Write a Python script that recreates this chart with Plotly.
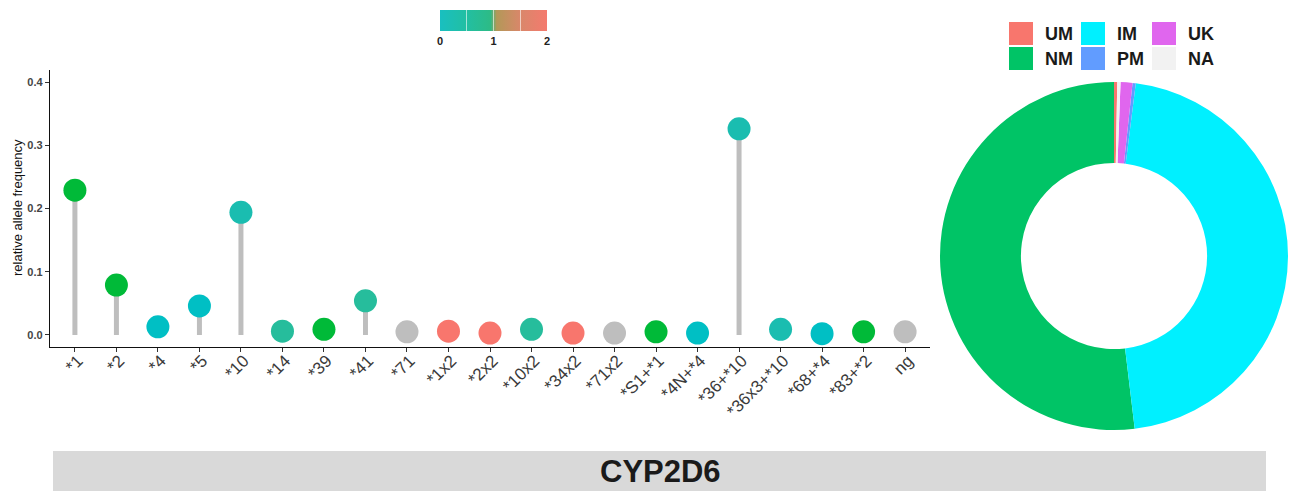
import plotly.graph_objects as go

# ---------------- data ----------------
alleles = ["*1", "*2", "*4", "*5", "*10", "*14", "*39", "*41", "*71", "*1x2", "*2x2",
           "*10x2", "*34x2", "*71x2", "*S1+*1", "*4N+*4", "*36+*10", "*36x3+*10",
           "*68+*4", "*83+*2", "ng"]
frequency = [0.229, 0.079, 0.013, 0.046, 0.194, 0.006, 0.009, 0.054, 0.005, 0.006, 0.003,
             0.009, 0.003, 0.003, 0.005, 0.003, 0.326, 0.009, 0.002, 0.005, 0.005]
activity = [1, 1, 0, 0, 0.25, 0.5, 1, 0.5, None, 2, 2,
            0.5, 2, None, 1, 0, 0.25, 0.25, 0, 1, None]

phenotypes = ["UM", "NM", "IM", "PM", "UK", "NA"]
phenotype_share = [0.3, 51.9, 46.1, 0.3, 1.1, 0.3]
phenotype_colors = ["#F8766D", "#00C466", "#00F0FF", "#619CFF", "#E066EE", "#F2F2F2"]

legend_rows = [["UM", "IM", "UK"], ["NM", "PM", "NA"]]
colorbar_ticks = [0, 0.5, 1, 1.5, 2]
colorbar_labels = ["0", "", "1", "", "2"]
gene = "CYP2D6"

# ---------------- styles ----------------
ACT_COLORS = {0: "#00BFC4", 0.25: "#1ABDB0", 0.5: "#26BD9C", 1: "#00BA38", 2: "#F8766D"}
NA_COLOR = "#BEBEBE"
marker_colors = [ACT_COLORS[a] if a is not None else NA_COLOR for a in activity]

W, H = 1293, 491
def px(x):
    return x / W
def py(y):
    return 1 - y / H

fig = go.Figure()

# stems
sx, sy = [], []
for a, f in zip(alleles, frequency):
    sx += [a, a, None]
    sy += [0, f, None]
fig.add_trace(go.Scatter(x=sx, y=sy, mode="lines",
                         line=dict(color="#BEBEBE", width=5),
                         showlegend=False, hoverinfo="skip"))
# heads
fig.add_trace(go.Scatter(x=alleles, y=frequency, mode="markers",
                         marker=dict(size=23, color=marker_colors, line=dict(width=0)),
                         showlegend=False))

# colorbar (activity scale)
fig.add_trace(go.Scatter(x=[None], y=[None], mode="markers", showlegend=False,
                         marker=dict(color=[0], cmin=0, cmax=2, showscale=True,
                                     colorscale=[[0, "#19BFC0"], [0.25, "#22BFA2"],
                                                 [0.47, "#2DBB86"], [0.53, "#B39858"],
                                                 [0.75, "#D9876A"], [1, "#F47A6E"]],
                                     colorbar=dict(orientation="h", lenmode="pixels", len=107,
                                                   thickness=21, x=px(493.5), xanchor="center",
                                                   y=py(10), yanchor="top", outlinewidth=0,
                                                   tickvals=colorbar_ticks,
                                                   ticktext=colorbar_labels,
                                                   ticks="inside", ticklen=21, tickwidth=1,
                                                   tickcolor="rgba(255,255,255,0.6)",
                                                   tickfont=dict(family="Liberation Sans", size=11,
                                                                 color="#222", weight="bold"),
                                                   xpad=0, ypad=0))))

# donut
fig.add_trace(go.Pie(labels=phenotypes, values=phenotype_share, hole=0.535, sort=False,
                     direction="counterclockwise", rotation=0,
                     marker=dict(colors=phenotype_colors, line=dict(width=0)),
                     textinfo="none", showlegend=False,
                     domain=dict(x=[px(940), px(1288)], y=[py(430), py(82)])))

# legend for donut (drawn)
color_of = dict(zip(phenotypes, phenotype_colors))
col_x = [1009, 1081, 1152]
row_y = [22, 47]
shapes = []
annotations = []
for r, row in enumerate(legend_rows):
    for c, lab in enumerate(row):
        x0, y0 = col_x[c], row_y[r]
        shapes.append(dict(type="rect", xref="paper", yref="paper",
                           x0=px(x0), x1=px(x0 + 24), y0=py(y0 + 23), y1=py(y0),
                           fillcolor=color_of[lab], line=dict(width=0)))
        annotations.append(dict(text=lab, xref="paper", yref="paper", x=px(x0 + 34),
                                y=py(y0 + 11.5), xanchor="left", yanchor="middle",
                                showarrow=False,
                                font=dict(family="Liberation Sans", size=18, color="#1a1a1a",
                                          weight="bold")))

# bottom strip
shapes.append(dict(type="rect", xref="paper", yref="paper", x0=px(53), x1=px(1266),
                   y0=0, y1=py(451), fillcolor="#D9D9D9", line=dict(width=0), layer="below"))
annotations.append(dict(text=gene, xref="paper", yref="paper", x=px(660), y=py(471),
                        xanchor="center", yanchor="middle", showarrow=False,
                        font=dict(family="Liberation Sans", size=31, color="#1a1a1a",
                                  weight="bold")))
# y title
annotations.append(dict(text="relative allele frequency", xref="paper", yref="paper",
                        x=px(17), y=py(208), textangle=-90, showarrow=False,
                        xanchor="center", yanchor="middle",
                        font=dict(family="Liberation Sans", size=13, color="#111")))

fig.update_layout(
    width=W, height=H, margin=dict(l=0, r=0, t=0, b=0),
    paper_bgcolor="white", plot_bgcolor="white",
    shapes=shapes, annotations=annotations,
    xaxis=dict(domain=[px(50), px(930)], type="category", categoryorder="array",
               categoryarray=alleles, range=[-0.6, 20.6], showgrid=False, zeroline=False,
               showline=True, linecolor="#111", linewidth=1.3, ticks="outside", ticklen=4,
               tickcolor="#333", tickangle=-45, automargin=False, ticklabelshift=3,
               ticklabelstandoff=-8,
               tickfont=dict(family="Liberation Sans", size=17, color="#3A3A3A")),
    yaxis=dict(domain=[py(347), py(70)], range=[-0.019, 0.419], showgrid=False,
               zeroline=False, showline=True, linecolor="#111", linewidth=1.3,
               ticks="outside", ticklen=4, tickcolor="#333", tickvals=[0, 0.1, 0.2, 0.3, 0.4],
               tickformat=".1f", automargin=False,
               tickfont=dict(family="Liberation Sans", size=11, color="#444", weight="bold")),
)

fig.write_html("out.html", config={"displayModeBar": False},
               post_script="document.body.style.margin='0';")
